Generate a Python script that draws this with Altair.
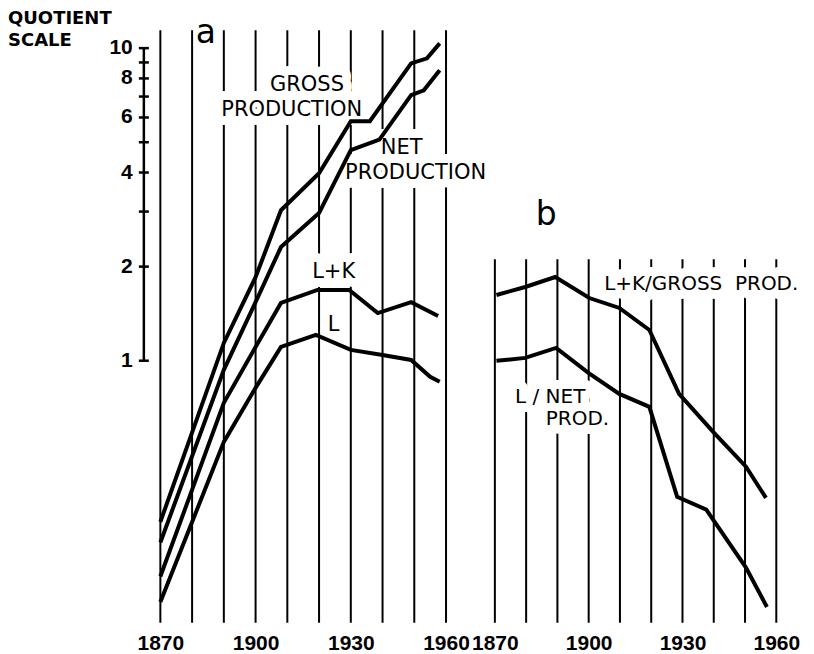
import altair as alt
import pandas as pd

# ---------------- data ----------------
grid_years = [1870, 1880, 1890, 1900, 1910, 1920, 1930, 1940, 1950, 1960]
axis_years = [1870, 1900, 1930, 1960]

# panel a
gross_years = [1870, 1890, 1900, 1908, 1920, 1930, 1936, 1949, 1954, 1958]
gross_vals = [0.305, 1.14, 1.85, 3.03, 3.98, 5.84, 5.84, 8.94, 9.28, 10.36]
net_years = [1870, 1890, 1900, 1908, 1920, 1930, 1939, 1949, 1953, 1958]
net_vals = [0.262, 0.935, 1.54, 2.31, 2.97, 4.72, 5.1, 7.07, 7.33, 8.49]
lk_years = [1870, 1890, 1900, 1908, 1919.5, 1929.5, 1938.5, 1949, 1957.5]
lk_vals = [0.204, 0.733, 1.107, 1.53, 1.684, 1.684, 1.42, 1.54, 1.39]
l_years = [1870, 1890, 1900, 1908, 1919, 1930, 1940, 1949, 1955, 1958]
l_vals = [0.169, 0.55, 0.819, 1.107, 1.209, 1.083, 1.043, 1.006, 0.888, 0.856]

# panel b
lk_gross_years = [1870.5, 1879.7, 1889.3, 1900.2, 1909.8, 1919.4, 1928.9, 1940.1, 1950.3, 1956.7]
lk_gross_vals = [1.623, 1.721, 1.852, 1.587, 1.475, 1.254, 0.783, 0.588, 0.458, 0.364]
l_net_years = [1870.5, 1879.7, 1889.6, 1899.9, 1909.8, 1919.4, 1928.3, 1937.6, 1950.3, 1957.0]
l_net_vals = [0.999, 1.021, 1.099, 0.914, 0.783, 0.712, 0.367, 0.334, 0.218, 0.163]

# quotient scale
scale_ticks = [1, 2, 3, 4, 5, 6, 7, 8, 9, 10]
scale_labels = [1, 2, 4, 6, 8, 10]

# annotations
ann_a_text = ["GROSS", "PRODUCTION", "NET", "PRODUCTION", "L+K", "L"]
ann_a_year = [1916.2, 1911.4, 1946.0, 1950.4, 1924.6, 1924.6]
ann_a_value = [7.6, 6.33, 4.79, 3.98, 1.92, 1.30]

ann_b_text = ["L+K/GROSS\u00a0\u00a0PROD.", "L / NET", "PROD."]
ann_b_year = [1936.0, 1887.7, 1896.4]
ann_b_value = [1.76, 0.765, 0.652]

title_text = ["QUOTIENT", "SCALE"]
title_year = [1822, 1822]
title_value = [12.36, 10.55]

# ---------------- styling ----------------
NUM_FONT = "Liberation Sans"
TXT_FONT = "DejaVu Sans"

y_scale = alt.Scale(type="log", domain=[0.14, 13.4], nice=False)
xa_scale = alt.Scale(domain=[1822, 1968], nice=False, zero=False)
xb_scale = alt.Scale(domain=[1862.5, 1969.5], nice=False, zero=False)

x_axis = alt.Axis(values=axis_years, format="d", title=None, domain=False,
                  ticks=False, grid=False, labelFont=NUM_FONT, labelFontSize=21,
                  labelFontWeight="bold", labelColor="black", labelPadding=5,
                  labelFlush=False, labelOverlap=False)


def xf(scale, field="year"):
    return alt.X(f"{field}:Q", scale=scale, axis=x_axis)


def yf(field="value"):
    return alt.Y(f"{field}:Q", scale=y_scale, axis=None)


def series_df(parts):
    frames = []
    for name, yrs, vals in parts:
        frames.append(pd.DataFrame({"series": name, "year": yrs, "value": vals}))
    return pd.concat(frames, ignore_index=True)


def panel(xs, lines_df, ann_df, letter, letter_year, letter_value,
          grid_top, grid_bottom, halo_filter=None, font_size=21):
    grid = alt.Chart(pd.DataFrame({"year": grid_years})).mark_rule(
        color="black", strokeWidth=2
    ).encode(
        x=xf(xs),
        y=alt.YDatum(grid_top, scale=y_scale, axis=None),
        y2=alt.Y2Datum(grid_bottom),
    )
    halo_base = alt.Chart(ann_df)
    if halo_filter is not None:
        halo_base = halo_base.transform_filter(halo_filter)
    halo = halo_base.mark_text(
        font=TXT_FONT, fontSize=font_size, color="white", stroke="white",
        strokeWidth=18, strokeJoin="round"
    ).encode(x=xf(xs), y=yf(), text="label:N")
    lines = alt.Chart(lines_df).mark_line(
        color="black", strokeWidth=4, strokeJoin="miter"
    ).encode(x=xf(xs), y=yf(), detail="series:N")
    text = alt.Chart(ann_df).mark_text(
        font=TXT_FONT, fontSize=font_size, color="black"
    ).encode(x=xf(xs), y=yf(), text="label:N")
    let = alt.Chart(pd.DataFrame({"label": [letter], "year": [letter_year],
                                  "value": [letter_value]})).mark_text(
        font=TXT_FONT, fontSize=33, color="black"
    ).encode(x=xf(xs), y=yf(), text="label:N")
    return [grid, halo, lines, text, let]


lines_a_df = series_df([
    ("gross", gross_years, gross_vals),
    ("net", net_years, net_vals),
    ("lk", lk_years, lk_vals),
    ("l", l_years, l_vals),
])
lines_b_df = series_df([
    ("lk_gross", lk_gross_years, lk_gross_vals),
    ("l_net", l_net_years, l_net_vals),
])
ann_a_df = pd.DataFrame({"label": ann_a_text, "year": ann_a_year, "value": ann_a_value})
ann_b_df = pd.DataFrame({"label": ann_b_text, "year": ann_b_year, "value": ann_b_value})

layers_a = panel(xa_scale, lines_a_df, ann_a_df, "a", 1884.3, 11.15,
                 11.4, 0.145, halo_filter=alt.datum.label != "L")
layers_b = panel(xb_scale, lines_b_df, ann_b_df, "b", 1886.4, 2.92,
                 2.11, 0.145, font_size=20)

AXIS_X = 1864.8
axis_rule = alt.Chart(pd.DataFrame({"v": [1]})).mark_rule(
    color="black", strokeWidth=2.5
).encode(
    x=alt.XDatum(AXIS_X, scale=xa_scale, axis=x_axis),
    y=alt.YDatum(1, scale=y_scale, axis=None),
    y2=alt.Y2Datum(10),
)
axis_ticks = alt.Chart(pd.DataFrame({"v": scale_ticks})).mark_tick(
    orient="horizontal", size=10, thickness=2.5, color="black", opacity=1
).encode(
    x=alt.XDatum(AXIS_X, scale=xa_scale, axis=x_axis),
    y=yf("v"),
)
axis_labels = alt.Chart(pd.DataFrame({"v": scale_labels})).mark_text(
    align="right", font=NUM_FONT, fontWeight="bold", fontSize=21, color="black"
).encode(
    x=alt.XDatum(1861.3, scale=xa_scale, axis=x_axis),
    y=yf("v"),
    text=alt.Text("v:Q", format="d"),
)
title = alt.Chart(pd.DataFrame({"label": title_text, "year": title_year,
                                "value": title_value})).mark_text(
    align="left", font=TXT_FONT, fontWeight="bold", fontSize=18, color="black"
).encode(x=xf(xa_scale), y=yf(), text="label:N")

chart_a = alt.layer(*layers_a, axis_rule, axis_ticks, axis_labels, title).properties(
    width=464, height=620)
chart_b = alt.layer(*layers_b).properties(width=335, height=620)

chart = alt.hconcat(chart_a, chart_b, spacing=0, bounds="flush", padding=0,
                    background="white").resolve_scale(
    x="independent", y="independent"
).configure_view(stroke=None)

chart.save("out.html", embed_options={"renderer": "svg", "actions": False})
